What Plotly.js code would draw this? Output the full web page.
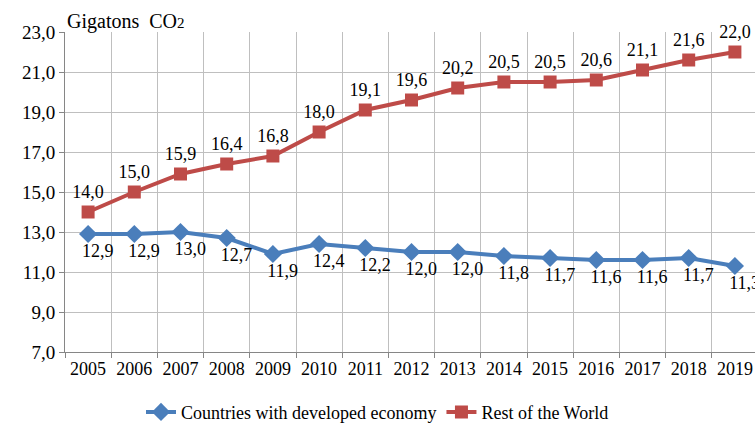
<!DOCTYPE html>
<html>
<head>
<meta charset="utf-8">
<script src="https://cdn.plot.ly/plotly-3.0.1.min.js"></script>
<style>html,body{margin:0;padding:0;background:#fff;}#chart{width:755px;height:425px;}</style>
</head>
<body>
<div id="chart"></div>
<script>
const years = ["2005","2006","2007","2008","2009","2010","2011","2012","2013","2014","2015","2016","2017","2018","2019"];
const developed = [12.9,12.9,13.0,12.7,11.9,12.4,12.2,12.0,12.0,11.8,11.7,11.6,11.6,11.7,11.3];
const restOfWorld = [14.0,15.0,15.9,16.4,16.8,18.0,19.1,19.6,20.2,20.5,20.5,20.6,21.1,21.6,22.0];
const seriesNames = ["Countries with developed economy","Rest of the World"];
const yTitle = 'Gigatons  CO<span style="font-size:15px">2</span>';

const FONT = "Liberation Serif";
const XR = [-0.5, 14.435];
const SHIFT = 0.21; // blue labels sit slightly right of their points
const traces = [
  {
    x: years, y: developed, name: seriesNames[0], type: "scatter", mode: "lines+markers",
    line: {color: "#4a7ebb", width: 4},
    marker: {symbol: "diamond", size: 14, color: "#4a7ebb"},
    cliponaxis: false
  },
  {
    x: years, y: restOfWorld, name: seriesNames[1], type: "scatter", mode: "lines+markers+text",
    line: {color: "#be4b48", width: 4},
    marker: {symbol: "square", size: 13, color: "#be4b48"},
    texttemplate: "%{y:.1f}", textposition: "top center",
    textfont: {family: FONT, size: 18, color: "#000"}, cliponaxis: false
  },
  {
    x: years, y: developed, name: seriesNames[0] + " labels", type: "scatter", mode: "markers+text", xaxis: "x2",
    marker: {size: 14, opacity: 0, color: "#4a7ebb"},
    texttemplate: "%{y:.1f}", textposition: "bottom center", showlegend: false,
    textfont: {family: FONT, size: 18, color: "#000"}, cliponaxis: false
  }
];
const layout = {
  width: 755, height: 425,
  margin: {l: 65, r: 0, t: 32, b: 73},
  paper_bgcolor: "#fff", plot_bgcolor: "#fff",
  separators: ", ",
  font: {family: FONT, size: 18, color: "#000"},
  showlegend: true,
  legend: {orientation: "h", xref: "container", yref: "container", x: 0.5, xanchor: "center", y: 0.03, yanchor: "middle",
           font: {family: FONT, size: 18, color: "#000"}, itemwidth: 30, tracegroupgap: 0},
  xaxis: {type: "category", range: XR, tickson: "boundaries", showgrid: true, gridcolor: "#bfbfbf", gridwidth: 1,
          showline: true, linecolor: "#868686", linewidth: 1, ticks: "outside", ticklen: 5, tickcolor: "#868686",
          tickfont: {family: FONT, size: 18, color: "#000"}, zeroline: false, fixedrange: true},
  xaxis2: {type: "category", overlaying: "x", range: [XR[0] - SHIFT, XR[1] - SHIFT], visible: false, fixedrange: true},
  yaxis: {range: [7, 23], dtick: 2, tick0: 7, tickformat: ".1f", showgrid: true, gridcolor: "#bfbfbf", gridwidth: 1,
          showline: true, linecolor: "#868686", linewidth: 1, ticks: "outside", ticklen: 5, tickcolor: "#868686",
          tickfont: {family: FONT, size: 19, color: "#000"}, zeroline: false, fixedrange: true},
  annotations: [{text: yTitle, xref: "paper", yref: "paper", x: 0, y: 1, xanchor: "left", yanchor: "bottom",
                 showarrow: false, font: {family: FONT, size: 20, color: "#000"}, yshift: -3}]
};
Plotly.newPlot("chart", traces, layout, {displayModeBar: false, staticPlot: true});
</script>
</body>
</html>
